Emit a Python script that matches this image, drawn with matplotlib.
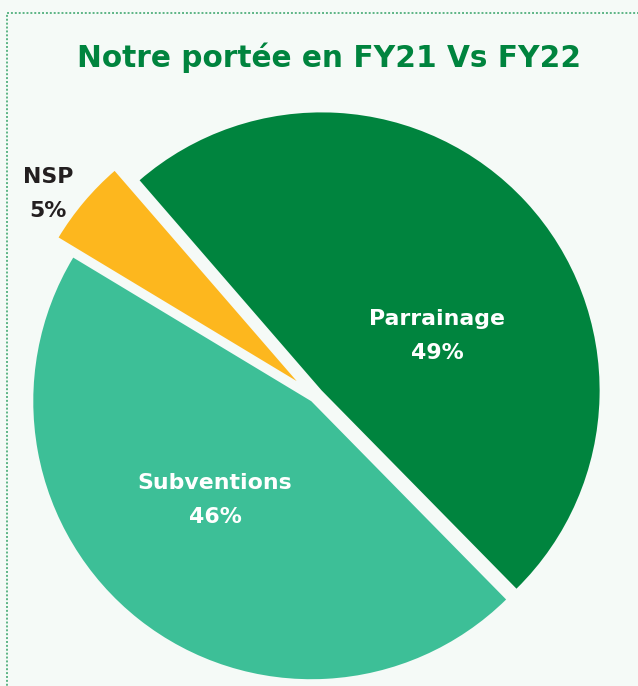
import matplotlib
matplotlib.use("Agg")
import matplotlib.pyplot as plt
from matplotlib.patches import Rectangle

# data
labels = ["Parrainage", "Subventions", "NSP"]
shares = [49, 46, 5]
colors = ["#00843e", "#3dbf97", "#fdb71e"]
explode = [9, 6, 24]

bg = "#f5faf7"
title = "Notre portée en FY21 Vs FY22"

W, H = 638, 686
fig = plt.figure(figsize=(W / 100, H / 100), dpi=100, facecolor=bg)
ax = fig.add_axes([0, 0, 1, 1])

# pie drawn in pixel units (y up)
cx, cy, R = 315, H - 396.5, 278
ax.pie(shares, colors=colors, explode=explode, center=(cx, cy), radius=R,
       startangle=130.9, counterclock=False, frame=True,
       wedgeprops=dict(linewidth=0))
ax.set_xlim(0, W)
ax.set_ylim(0, H)
ax.set_facecolor(bg)
ax.axis("off")

# dotted border (top and left only visible)
ax.add_patch(Rectangle((7, -20), W + 40, H - 13 + 20, fill=False,
                       edgecolor="#5cb585", linestyle=(0, (1, 1)), linewidth=1.4,
                       clip_on=False))

ax.text(329, H - 58, title, ha="center", va="center", color="#00843e",
        fontsize=21.3, fontweight="bold", family="DejaVu Sans")

lab_pos = [(437, H - 336), (215, H - 500), (48, H - 194)]
lab_col = ["white", "white", "#231f20"]
for name, val, (x, y), c in zip(labels, shares, lab_pos, lab_col):
    ax.text(x, y, f"{name}\n{val}%", ha="center", va="center", color=c,
            fontsize=15.8, fontweight="bold", linespacing=1.9,
            family="DejaVu Sans")

fig.savefig("out.png", dpi=100, facecolor=bg)
